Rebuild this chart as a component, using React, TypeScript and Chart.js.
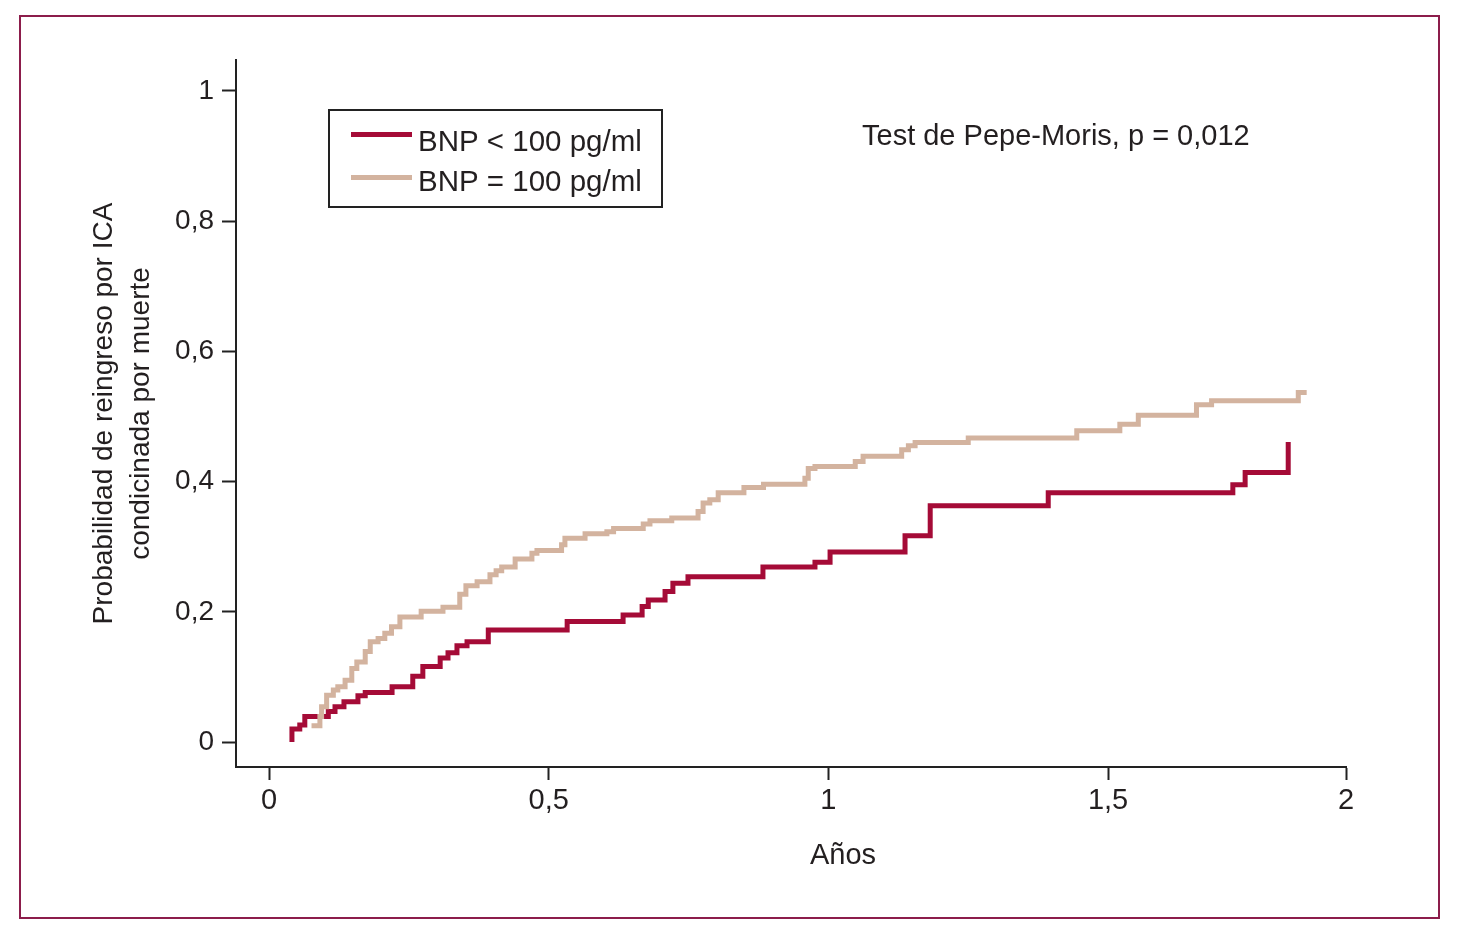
import { useEffect, useRef } from 'react';
import { Chart, registerables } from 'chart.js';

Chart.register(...registerables);

// ---------- data ----------
const seriesLabels = ['BNP < 100 pg/ml', 'BNP = 100 pg/ml'];
const seriesColors = ['#a50b37', '#d3b39f'];

// BNP < 100 pg/ml : step points (years, probability)
const lowBnpYears = [0.041, 0.041, 0.055, 0.064, 0.106, 0.118, 0.134, 0.159, 0.172, 0.220, 0.257, 0.275, 0.306, 0.320, 0.336, 0.354, 0.392, 0.533, 0.633, 0.667, 0.678, 0.708, 0.722, 0.749, 0.883, 0.976, 1.003, 1.137, 1.182, 1.393, 1.723, 1.745, 1.822];
const lowBnpProb = [0, 0.020, 0.026, 0.039, 0.047, 0.054, 0.062, 0.071, 0.076, 0.085, 0.101, 0.116, 0.129, 0.137, 0.148, 0.154, 0.172, 0.185, 0.195, 0.208, 0.218, 0.231, 0.244, 0.254, 0.269, 0.276, 0.292, 0.317, 0.363, 0.383, 0.395, 0.414, 0.461];

// BNP = 100 pg/ml : step points (years, probability)
const highBnpYears = [0.076, 0.091, 0.094, 0.103, 0.115, 0.123, 0.136, 0.148, 0.157, 0.172, 0.181, 0.195, 0.207, 0.219, 0.234, 0.272, 0.311, 0.341, 0.352, 0.372, 0.395, 0.406, 0.416, 0.440, 0.470, 0.479, 0.523, 0.529, 0.565, 0.604, 0.616, 0.669, 0.681, 0.720, 0.767, 0.776, 0.788, 0.803, 0.849, 0.884, 0.958, 0.964, 0.976, 1.048, 1.062, 1.131, 1.143, 1.155, 1.250, 1.444, 1.521, 1.554, 1.658, 1.685, 1.840, 1.855];
const highBnpProb = [0.025, 0.039, 0.054, 0.072, 0.080, 0.085, 0.095, 0.113, 0.123, 0.139, 0.154, 0.159, 0.167, 0.177, 0.192, 0.201, 0.207, 0.227, 0.240, 0.246, 0.257, 0.263, 0.269, 0.281, 0.290, 0.294, 0.303, 0.313, 0.320, 0.323, 0.328, 0.335, 0.340, 0.344, 0.354, 0.367, 0.372, 0.383, 0.391, 0.396, 0.405, 0.420, 0.423, 0.431, 0.439, 0.449, 0.455, 0.460, 0.467, 0.478, 0.488, 0.502, 0.518, 0.524, 0.537, 0.537];

const yTickValues = [0, 0.2, 0.4, 0.6, 0.8, 1];
const yTickLabels = ['0', '0,2', '0,4', '0,6', '0,8', '1'];
const xTickValues = [0, 0.5, 1, 1.5];
const xTickLabels = ['0', '0,5', '1', '1,5', '2'];

const xAxisTitle = 'Años';
const yAxisTitle = ['Probabilidad de reingreso por ICA', 'condicinada por muerte'];
const testNote = 'Test de Pepe-Moris, p = 0,012';

// ---------- style ----------
const FONT = "'Liberation Sans', Arial, sans-serif";
const TEXT = '#231f20';
const X_MIN = -0.059;
const X_MAX = 1.9253;
const Y_MIN = -0.0384;
const Y_MAX = 1.0476;

const decor = {
  id: 'decor',
  beforeDraw(chart: any) {
    const ctx = chart.ctx;
    ctx.save();
    ctx.fillStyle = '#ffffff';
    ctx.fillRect(0, 0, chart.width, chart.height);
    ctx.strokeStyle = '#8c1d4b';
    ctx.lineWidth = 2;
    ctx.strokeRect(20, 16, 1419, 902);
    ctx.restore();
  },
  afterDraw(chart: any) {
    const ctx = chart.ctx;
    ctx.save();
    // legend
    ctx.strokeStyle = '#222';
    ctx.lineWidth = 2;
    ctx.strokeRect(329, 110, 333, 97);
    ctx.font = `29.5px ${FONT}`;
    ctx.textBaseline = 'alphabetic';
    ctx.textAlign = 'left';
    chart.data.datasets.forEach((ds: any, i: number) => {
      const y = 134.5 + i * 43;
      ctx.strokeStyle = ds.borderColor;
      ctx.lineWidth = 5;
      ctx.beginPath();
      ctx.moveTo(351, y);
      ctx.lineTo(412, y);
      ctx.stroke();
      ctx.fillStyle = TEXT;
      ctx.fillText(ds.label, 418, 151 + i * 40);
    });
    ctx.fillStyle = TEXT;
    ctx.font = `29px ${FONT}`;
    ctx.fillText(testNote, 862, 145);
    ctx.textAlign = 'center';
    ctx.fillText(xAxisTitle, 843, 864);
    ctx.restore();
  },
};

export default function App() {
  const ref = useRef<HTMLCanvasElement | null>(null);

  useEffect(() => {
    document.body.style.margin = '0';
    const canvas = ref.current;
    if (!canvas) return;
    const mk = (xs: number[], ys: number[]) => xs.map((x, i) => ({ x, y: ys[i] }));
    const chart = new Chart(canvas, {
      type: 'line',
      data: {
        datasets: [
          {
            label: seriesLabels[0],
            data: mk(lowBnpYears, lowBnpProb),
            borderColor: seriesColors[0],
            backgroundColor: seriesColors[0],
            borderWidth: 5,
            stepped: true,
            pointRadius: 0,
            fill: false,
            order: 1,
          },
          {
            label: seriesLabels[1],
            data: mk(highBnpYears, highBnpProb),
            borderColor: seriesColors[1],
            backgroundColor: seriesColors[1],
            borderWidth: 5,
            stepped: true,
            pointRadius: 0,
            fill: false,
            order: 0,
          },
        ],
      },
      options: {
        animation: false,
        responsive: false,
        devicePixelRatio: 1,
        layout: { padding: { left: 0, top: 60, right: 112, bottom: 0 } },
        plugins: {
          legend: { display: false },
          tooltip: { enabled: false },
          title: { display: false },
        },
        scales: {
          x: {
            type: 'linear',
            min: X_MIN,
            max: X_MAX,
            afterBuildTicks: (scale: any) => {
              scale.ticks = [...xTickValues, X_MAX].map((v) => ({ value: v }));
            },
            afterFit: (scale: any) => {
              scale.height = 166;
            },
            ticks: {
              autoSkip: false,
              maxRotation: 0,
              padding: 4,
              color: TEXT,
              font: { family: FONT, size: 29 },
              callback: (_v: any, i: number) => xTickLabels[i],
            },
            grid: {
              display: true,
              drawOnChartArea: false,
              drawTicks: true,
              tickLength: 13,
              tickColor: '#222',
              tickWidth: 2,
            },
            border: { display: true, color: '#222', width: 2 },
            title: { display: false },
          },
          y: {
            type: 'linear',
            min: Y_MIN,
            max: Y_MAX,
            afterBuildTicks: (scale: any) => {
              scale.ticks = yTickValues.map((v) => ({ value: v }));
            },
            afterFit: (scale: any) => {
              scale.width = 236;
            },
            ticks: {
              autoSkip: false,
              padding: 8,
              color: TEXT,
              font: { family: FONT, size: 28 },
              callback: (_v: any, i: number) => yTickLabels[i],
            },
            grid: {
              display: true,
              drawOnChartArea: false,
              drawTicks: true,
              tickLength: 14,
              tickColor: '#222',
              tickWidth: 2,
            },
            border: { display: true, color: '#222', width: 2 },
            title: {
              display: true,
              text: yAxisTitle,
              color: TEXT,
              font: { family: FONT, size: 28, lineHeight: 1.32 },
              padding: { top: 86, bottom: 0 },
            },
          },
        },
      },
      plugins: [decor],
    } as any);
    return () => chart.destroy();
  }, []);

  return (
    <div style={{ width: 1458, height: 933, position: 'relative' }}>
      <canvas ref={ref} width={1458} height={933} style={{ display: 'block', width: 1458, height: 933 }} />
    </div>
  );
}
